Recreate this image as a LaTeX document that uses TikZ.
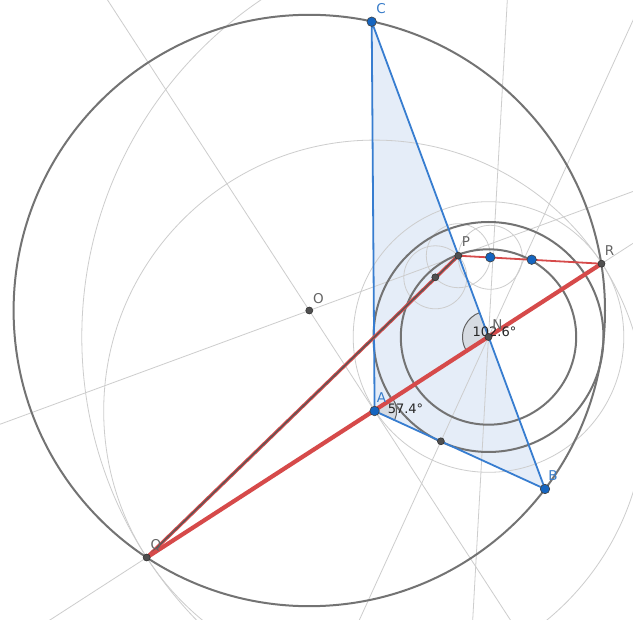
\documentclass[tikz,border=0pt]{standalone}
\usepackage{fontspec}
\setmainfont{DejaVu Sans}
\usetikzlibrary{calc}
\definecolor{tri}{RGB}{21,101,192}
\definecolor{triedge}{RGB}{55,125,208}
\definecolor{trifill}{RGB}{229,237,248}
\definecolor{redl}{RGB}{214,74,74}
\definecolor{dgray}{RGB}{115,115,115}
\definecolor{lgray}{RGB}{205,205,205}
\definecolor{ptgray}{RGB}{80,80,80}
\definecolor{lblgray}{RGB}{100,100,100}
\definecolor{angfill}{RGB}{214,219,226}
\begin{document}
\begin{tikzpicture}[x=1pt,y=-1pt,
  gline/.style={draw=lgray, line width=0.8pt},
  dcirc/.style={draw=dgray, line width=2pt},
  bluept/.style={circle, fill=tri, draw=black!75, line width=0.6pt, inner sep=0pt, minimum size=9.5pt},
  darkpt/.style={circle, fill=ptgray, draw=black!80, line width=0.6pt, inner sep=0pt, minimum size=7pt},
  lbl/.style={font=\fontsize{13.5}{13.5}\selectfont, text=lblgray, inner sep=0pt},
  bluelbl/.style={lbl, text=tri!85!white},
  anglbl/.style={font=\fontsize{13}{13}\selectfont, text=black!85, inner sep=0pt},
  angsec/.style={fill=angfill, draw=dgray!85!black, line width=1pt}]
\useasboundingbox (0,0) rectangle (633,620);
\fill[white] (0,0) rectangle (633,620);
% coordinates (pixel system)
\coordinate (O) at (309.3,310.5);
\coordinate (C) at (371.7,21.7);
\coordinate (A) at (374.6,411);
\coordinate (B) at (545,489);
\coordinate (Q) at (146.7,557.5);
\coordinate (P) at (458.3,255.7);
\coordinate (R) at (601.5,263.7);
\coordinate (N) at (488.5,337);
\coordinate (B1) at (490.3,257.3);
\coordinate (B2) at (531.7,259.7);
\coordinate (D1) at (435.3,277.3);
\coordinate (D2) at (440.9,441.3);
\coordinate (F) at ($(P)!(N)!(R)$);
\begin{scope}
\clip (0,0) rectangle (633,620);
% triangle fill
\fill[trifill] (A) -- (B) -- (C) -- cycle;
% light construction lines
\draw[gline] ($(O)!-5!(A)$) -- ($(O)!5!(A)$);
\draw[gline] ($(O)!-5!(P)$) -- ($(O)!5!(P)$);
\draw[gline] ($(Q)!-1!(R)$) -- ($(Q)!2!(R)$);
\draw[gline] ($(N)!-6!(D2)$) -- ($(N)!6!(D2)$);
\draw[gline] ($(N)!-8!(F)$) -- ($(N)!8!(F)$);
% light circles
\draw[gline] (N) circle[radius=135.3];
\draw[gline] (N) circle[radius=406.7];
\draw[gline] (A) circle[radius=270.9];
\draw[gline] (D1) circle[radius=31.5];
\draw[gline] (P) circle[radius=32];
\draw[gline] (B1) circle[radius=32];
% dark circles
\draw[dcirc] (O) circle[radius=295.7];
\draw[dcirc] (N) circle[radius=115];
\draw[dcirc] (N) circle[radius=87.7];
% angle sectors
\draw[angsec] (A) -- ++(-33:22) arc[start angle=-33, end angle=24.6, radius=22] -- cycle;
\draw[angsec] (N) -- ++(147:26) arc[start angle=147, end angle=249.7, radius=26] -- cycle;
% triangle edges
\draw[triedge, line width=1.8pt, line join=round] (A) -- (B) -- (C) -- cycle;
% red segments
\draw[redl, line width=3.4pt] (Q) -- (P);
\draw[dgray!75!black, line width=1.3pt] (Q) -- (P);
\draw[redl, line width=1.8pt] (P) -- (R);
\draw[redl, line width=4.2pt] (Q) -- (R);
\end{scope}
% angle labels
\node[anglbl] (angA) at (405.5,408.5) {57.4°};
\node[anglbl] (angN) at (494.5,332) {102.6°};
% points
\node[darkpt] (pO) at (O) {};
\node[darkpt] (pQ) at (Q) {};
\node[darkpt] (pP) at (P) {};
\node[darkpt] (pR) at (R) {};
\node[darkpt] (pD1) at (D1) {};
\node[darkpt] (pD2) at (D2) {};
\node[darkpt] (pN) at (N) {};
\node[bluept] (pA) at (A) {};
\node[bluept] (pB) at (B) {};
\node[bluept] (pC) at (C) {};
\node[bluept] (pB1) at (B1) {};
\node[bluept] (pB2) at (B2) {};
% point labels
\node[bluelbl] (lC) at (381,8.5) {C};
\node[bluelbl] (lA) at (381.5,398) {A};
\node[bluelbl] (lB) at (553,475.5) {B};
\node[lbl] (lP) at (466,242) {P};
\node[lbl] (lR) at (609.5,251) {R};
\node[lbl] (lO) at (318.5,299) {O};
\node[lbl] (lQ) at (156,545) {Q};
\node[lbl] (lN) at (497.5,325) {N};
\end{tikzpicture}
\end{document}
